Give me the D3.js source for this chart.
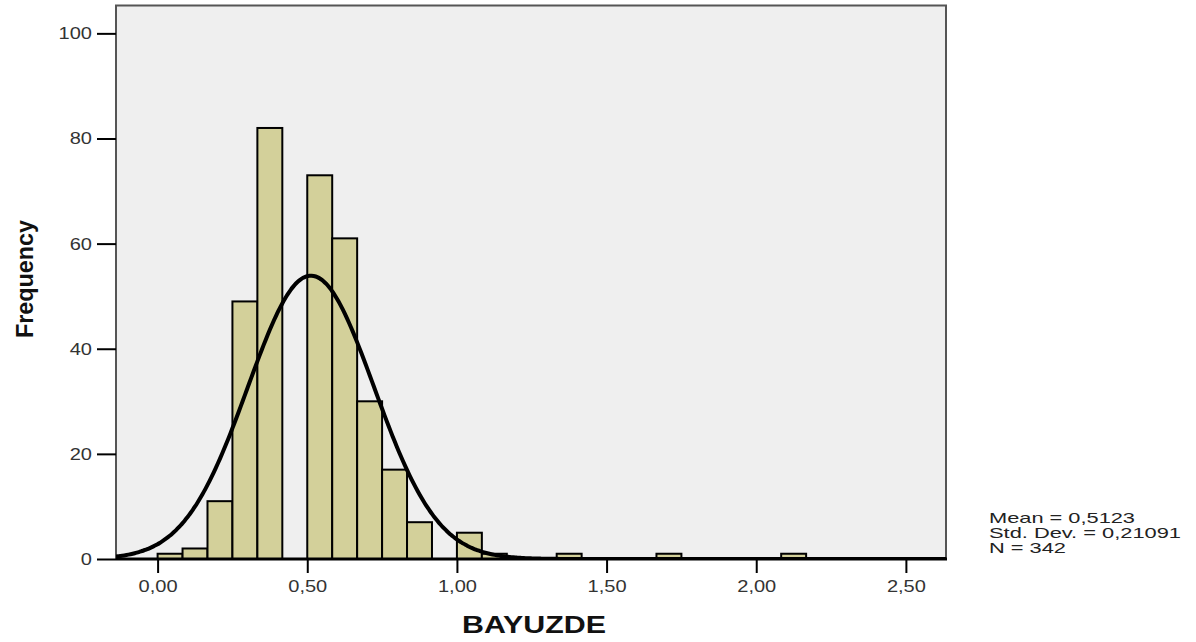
<!DOCTYPE html>
<html>
<head>
<meta charset="utf-8">
<script src="https://cdn.jsdelivr.net/npm/d3@7"></script>
<style>
  body { margin: 0; background: #fff; }
  svg text { font-family: "Liberation Sans", Arial, sans-serif; fill: #222; }
</style>
</head>
<body>
<div id="chart"></div>
<script>
// histogram of BAYUZDE, bins of width 1/12 starting at 0
const BIN_WIDTH = 1 / 12;
const counts = [1, 2, 11, 49, 82, 0, 73, 61, 30, 17, 7, 0, 5, 1, 0, 0, 1, 0, 0, 0, 1, 0, 0, 0, 0, 1];
const xTicks = [0, 0.5, 1, 1.5, 2, 2.5];
const yTicks = [0, 20, 40, 60, 80, 100];
const stats = { mean: 0.5123, sd: 0.21091, n: 342 };
const legendLines = ['Mean = 0,5123', 'Std. Dev. = 0,21091', 'N = 342'];

const W = 1196, H = 642;
const plot = { left: 116, right: 946, top: 5.5, bottom: 559 };
const STRETCH = 1.18; // text in the picture is a bit wide

const svg = d3.select('#chart').append('svg')
    .attr('width', W).attr('height', H);

const x = d3.scaleLinear()
    .domain([-0.139, 2.634])
    .range([plot.left, plot.right]);
const y = d3.scaleLinear()
    .domain([0, 105.3])
    .range([plot.bottom, plot.top]);

svg.append('rect')
    .attr('x', plot.left).attr('y', plot.top)
    .attr('width', plot.right - plot.left)
    .attr('height', plot.bottom - plot.top)
    .attr('fill', '#efefef')
    .attr('stroke', '#555')
    .attr('stroke-width', 2);

svg.append('clipPath').attr('id', 'clip')
  .append('rect')
    .attr('x', plot.left).attr('y', plot.top)
    .attr('width', plot.right - plot.left)
    .attr('height', plot.bottom - plot.top);

const bins = counts.map((c, i) => ({ x0: i * BIN_WIDTH, x1: (i + 1) * BIN_WIDTH, count: c }))
    .filter(d => d.count > 0);

svg.append('g')
  .selectAll('rect')
  .data(bins)
  .join('rect')
    .attr('x', d => x(d.x0))
    .attr('y', d => y(d.count))
    .attr('width', d => x(d.x1) - x(d.x0))
    .attr('height', d => y(0) - y(d.count))
    .attr('fill', '#d3d09a')
    .attr('stroke', '#000')
    .attr('stroke-width', 2);

// normal curve scaled to the histogram
const pdf = v => stats.n * BIN_WIDTH / (stats.sd * Math.sqrt(2 * Math.PI))
    * Math.exp(-0.5 * Math.pow((v - stats.mean) / stats.sd, 2));
const curveX = d3.range(400).map(i => x.invert(plot.left + i * (plot.right - plot.left) / 399));

svg.append('path')
    .datum(curveX)
    .attr('clip-path', 'url(#clip)')
    .attr('fill', 'none')
    .attr('stroke', '#000')
    .attr('stroke-width', 4)
    .attr('d', d3.line().x(v => x(v)).y(v => y(pdf(v))).curve(d3.curveBasis));

// bottom axis line
svg.append('line')
    .attr('x1', plot.left).attr('x2', plot.right + 1)
    .attr('y1', plot.bottom).attr('y2', plot.bottom)
    .attr('stroke', '#000').attr('stroke-width', 3);

const fmt = v => d3.format('.2f')(v).replace('.', ',');

svg.append('g')
    .attr('transform', `translate(0,${plot.bottom})`)
    .call(d3.axisBottom(x).tickValues(xTicks).tickSize(14).tickPadding(7).tickFormat(fmt))
    .call(g => g.select('.domain').remove())
    .call(g => g.selectAll('.tick line').attr('stroke', '#000').attr('stroke-width', 2))
    .call(g => g.selectAll('.tick text')
        .attr('font-size', 17)
        .style('fill', '#333')
        .attr('transform', `scale(${STRETCH},1)`));

svg.append('g')
    .attr('transform', `translate(${plot.left},0)`)
    .call(d3.axisLeft(y).tickValues(yTicks).tickSize(19))
    .call(g => g.select('.domain').remove())
    .call(g => g.selectAll('.tick line').attr('stroke', '#000').attr('stroke-width', 2))
    .call(g => g.selectAll('.tick text')
        .attr('font-size', 17)
        .style('fill', '#333')
        .attr('x', -24 / STRETCH)
        .attr('transform', `scale(${STRETCH},1)`));

// axis titles
svg.append('text')
    .attr('x', 534).attr('y', 633)
    .attr('text-anchor', 'middle')
    .attr('font-size', 24).attr('font-weight', 'bold')
    .attr('textLength', 144).attr('lengthAdjust', 'spacingAndGlyphs')
    .style('fill', '#111')
    .text('BAYUZDE');

svg.append('text')
    .attr('transform', 'translate(33,279) rotate(-90)')
    .attr('text-anchor', 'middle')
    .attr('font-size', 24).attr('font-weight', 'bold')
    .attr('textLength', 118).attr('lengthAdjust', 'spacingAndGlyphs')
    .style('fill', '#111')
    .text('Frequency');

// stats box
const legendWidths = [146, 192, 77];
svg.append('g')
  .selectAll('text')
  .data(legendLines)
  .join('text')
    .attr('x', 989)
    .attr('y', (d, i) => 523 + i * 15)
    .attr('font-size', 15)
    .attr('textLength', (d, i) => legendWidths[i])
    .attr('lengthAdjust', 'spacingAndGlyphs')
    .text(d => d);
</script>
</body>
</html>
